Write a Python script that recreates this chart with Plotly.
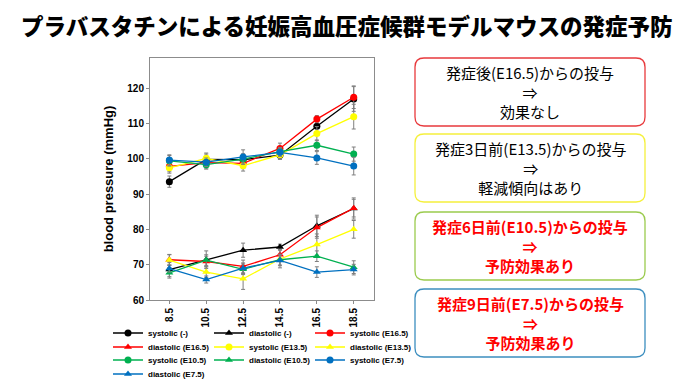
import plotly.graph_objects as go

days = [8.5, 10.5, 12.5, 14.5, 16.5, 18.5]
day_labels = ["8.5", "10.5", "12.5", "14.5", "16.5", "18.5"]
y_ticks = [60, 70, 80, 90, 100, 110, 120]

sys_ctrl = [93.5, 99.8, 99.7, 101.0, 109.2, 116.9]
dia_ctrl = [68.6, 71.4, 74.1, 75.0, 81.0, 85.9]
sys_e165 = [97.8, 98.9, 98.7, 102.9, 111.2, 117.4]
dia_e165 = [71.4, 70.9, 69.5, 72.8, 80.5, 86.0]
sys_e135 = [97.4, 100.1, 98.0, 101.1, 107.1, 111.9]
dia_e135 = [71.3, 67.9, 66.0, 71.6, 75.7, 80.0]
sys_e105 = [99.4, 98.3, 99.9, 102.0, 103.8, 101.3]
dia_e105 = [67.7, 71.3, 68.7, 71.4, 72.4, 69.3]
sys_e75 = [99.6, 99.0, 100.5, 101.8, 100.2, 97.9]
dia_e75 = [68.9, 65.8, 69.0, 71.2, 67.9, 68.6]

err_sys_ctrl = [1.6, 1.5, 1.5, 1.2, 2.5, 3.5]
err_dia_ctrl = [2.0, 2.5, 2.0, 0.8, 3.0, 3.0]
err_sys_e165 = [1.5, 1.8, 1.5, 1.5, 1.0, 3.2]
err_dia_e165 = [1.5, 1.5, 1.8, 1.5, 3.0, 2.5]
err_sys_e135 = [1.5, 1.5, 1.5, 1.2, 2.0, 3.5]
err_dia_e135 = [1.5, 1.5, 3.0, 2.5, 3.0, 2.5]
err_sys_e105 = [1.5, 1.2, 1.5, 1.2, 1.5, 2.0]
err_dia_e105 = [1.5, 1.5, 1.5, 1.5, 1.5, 1.8]
err_sys_e75 = [1.5, 1.2, 2.0, 1.2, 1.8, 2.5]
err_dia_e75 = [1.0, 1.0, 1.5, 1.5, 1.5, 1.5]

series = [
    ("systolic (-)", sys_ctrl, err_sys_ctrl, "#000000", "circle"),
    ("diastolic (-)", dia_ctrl, err_dia_ctrl, "#000000", "triangle-up"),
    ("systolic (E16.5)", sys_e165, err_sys_e165, "#FF0000", "circle"),
    ("diastolic (E16.5)", dia_e165, err_dia_e165, "#FF0000", "triangle-up"),
    ("systolic (E13.5)", sys_e135, err_sys_e135, "#FFFF00", "circle"),
    ("diastolic (E13.5)", dia_e135, err_dia_e135, "#FFFF00", "triangle-up"),
    ("systolic (E10.5)", sys_e105, err_sys_e105, "#00B050", "circle"),
    ("diastolic (E10.5)", dia_e105, err_dia_e105, "#00B050", "triangle-up"),
    ("systolic (E7.5)", sys_e75, err_sys_e75, "#0070C0", "circle"),
    ("diastolic (E7.5)", dia_e75, err_dia_e75, "#0070C0", "triangle-up"),
]

boxes = [
    ("発症後(E16.5)からの投与<br>⇒<br>効果なし", "#E8393C", "#000000", 58, 126),
    ("発症3日前(E13.5)からの投与<br>⇒<br>軽減傾向はあり", "#F5F03C", "#000000", 134, 202),
    ("発症6日前(E10.5)からの投与<br>⇒<br>予防効果あり", "#9BCB4E", "#FF0000", 212, 280),
    ("発症9日前(E7.5)からの投与<br>⇒<br>予防効果あり", "#3C8EBF", "#FF0000", 289, 357),
]

# page body has an 8px default margin: the figure is shrunk and offset accordingly
OFF = 8
W, H = 688 - OFF, 387 - OFF
# plot area in window pixels
PL, PR, PT, PB = 150, 374, 58, 300

legend_ids = ["legend", "legend2", "legend3", "legend4"]
legend_rows_py = [333, 347, 360, 374]

fig = go.Figure()
for i, (name, vals, err, color, sym) in enumerate(series):
    fig.add_trace(go.Scatter(
        x=days, y=vals, name=name, mode="lines+markers",
        line=dict(color=color, width=1.3),
        marker=dict(color=color, size=7, symbol=sym),
        error_y=dict(type="data", array=err, visible=True, color="#7F7F7F", thickness=1, width=2),
        legend=legend_ids[i // 3],
    ))

def px2paper_x(px):
    return (px - PL) / (PR - PL)

def px2paper_y(py):
    return (PB - py) / (PB - PT)

shapes = []
annotations = []
bx0, bx1 = 415, 645
r = 9
for text, bcol, tcol, y0, y1 in boxes:
    def P(x, y):
        return f"{px2paper_x(x):.5f},{px2paper_y(y):.5f}"
    path = (f"M {P(bx0 + r, y0)} L {P(bx1 - r, y0)} Q {P(bx1, y0)} {P(bx1, y0 + r)} "
            f"L {P(bx1, y1 - r)} Q {P(bx1, y1)} {P(bx1 - r, y1)} "
            f"L {P(bx0 + r, y1)} Q {P(bx0, y1)} {P(bx0, y1 - r)} "
            f"L {P(bx0, y0 + r)} Q {P(bx0, y0)} {P(bx0 + r, y0)} Z")
    shapes.append(dict(type="path", xref="paper", yref="paper", path=path,
                       line=dict(color=bcol, width=1.3), fillcolor="white"))
    annotations.append(dict(
        x=px2paper_x((bx0 + bx1) / 2), y=px2paper_y((y0 + y1) / 2), xref="paper", yref="paper",
        text=text, showarrow=False, xanchor="center", yanchor="middle",
        font=dict(family="Noto Sans CJK JP", size=15, color=tcol,
                  weight="bold" if tcol == "#FF0000" else "normal"),
    ))

annotations.append(dict(
    x=px2paper_x(347), y=px2paper_y(25), xref="paper", yref="paper",
    text="プラバスタチンによる妊娠高血圧症候群モデルマウスの発症予防", showarrow=False,
    xanchor="center", yanchor="middle",
    font=dict(family="Noto Sans CJK JP", size=22.5, color="#000000", weight=900),
))

legend_common = dict(orientation="h", xanchor="left", yanchor="middle",
                     xref="paper", yref="paper",
                     font=dict(size=8, family="Liberation Sans, Arial", weight="bold", color="#000000"),
                     entrywidth=56, entrywidthmode="pixels", itemwidth=30,
                     bgcolor="rgba(0,0,0,0)", borderwidth=0)

layout_legends = {}
for lid, py in zip(legend_ids, legend_rows_py):
    layout_legends[lid] = dict(legend_common, x=px2paper_x(108), y=px2paper_y(py))

fig.update_layout(
    width=W, height=H,
    margin=dict(l=PL - OFF, r=688 - PR, t=PT - OFF, b=387 - PB, autoexpand=False),
    paper_bgcolor="white", plot_bgcolor="white",
    font=dict(family="Liberation Sans, Arial", color="#000000"),
    showlegend=True,
    shapes=shapes,
    annotations=annotations,
    xaxis=dict(range=[7.45, 19.6], tickmode="array", tickvals=days, ticktext=day_labels,
               tickangle=-90, showgrid=False, zeroline=False, automargin=False,
               showline=True, mirror=True, linecolor="#8C8C8C", linewidth=1,
               ticks="outside", ticklen=3, tickcolor="#8C8C8C",
               tickfont=dict(size=10, weight="bold")),
    yaxis=dict(range=[60, 128.5], tickmode="array", tickvals=y_ticks,
               showgrid=False, zeroline=False, automargin=False,
               showline=True, mirror=True, linecolor="#8C8C8C", linewidth=1,
               ticks="outside", ticklen=3, tickcolor="#8C8C8C",
               tickfont=dict(size=10, weight="bold"),
               title=dict(text="blood pressure (mmHg)", font=dict(size=13, weight="bold"), standoff=10)),
    **layout_legends,
)

fig.write_html("out.html")
